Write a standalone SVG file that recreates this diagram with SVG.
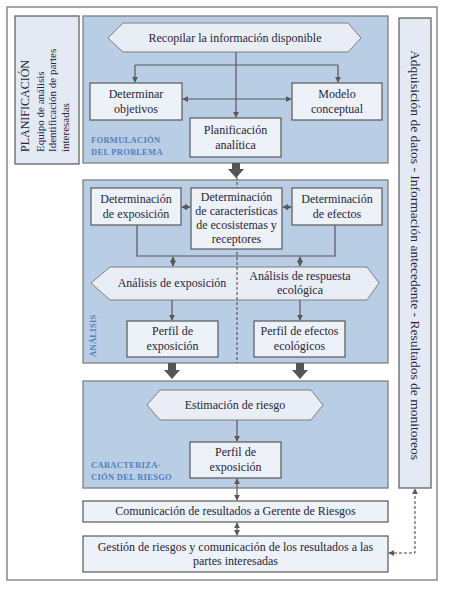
<svg xmlns="http://www.w3.org/2000/svg" width="450" height="591" viewBox="0 0 450 591" font-family="'Liberation Serif', 'DejaVu Serif', serif">
<style>
  text { font-family: 'Liberation Serif', 'DejaVu Serif', serif; fill: #26263a; }
  .t { font-size: 12px; text-anchor: middle; }
  .lbl { font-size: 8.5px; fill: #4f81bd; font-weight: bold; letter-spacing: 0.3px; }
  .frame { fill: #ffffff; stroke: #8a8a8a; stroke-width: 1.5; }
  .panel { fill: #b9cde5; stroke: #7f7f7f; stroke-width: 1.3; }
  .box { fill: #edf1f8; stroke: #595959; stroke-width: 1.2; }
  .hex { fill: #e9eef6; stroke: #7f7f7f; stroke-width: 1; }
  .side { fill: #e4eaf3; stroke: #595959; stroke-width: 1.2; }
  .ln { fill: none; stroke: #595959; stroke-width: 1.2; }
  .dash { fill: none; stroke: #404040; stroke-width: 1; stroke-dasharray: 3 2; }
  .big { fill: #555555; }
</style>
<defs>
  <marker id="ah" viewBox="0 0 8 8" refX="7" refY="4" markerWidth="6" markerHeight="6" markerUnits="userSpaceOnUse" orient="auto-start-reverse">
    <path d="M0,0 L8,4 L0,8 z" fill="#595959"/>
  </marker>
</defs>

<rect class="frame" x="7" y="7" width="430" height="573"/>

<g id="planificacion">
  <rect class="side" x="15" y="16" width="64" height="148"/>
  <text transform="translate(29,152) rotate(-90)" font-size="12">PLANIFICACIÓN</text>
  <text transform="translate(44,152) rotate(-90)" font-size="11">Equipo de análisis</text>
  <text transform="translate(56,152) rotate(-90)" font-size="11">Identificación de partes</text>
  <text transform="translate(69,152) rotate(-90)" font-size="11">interesadas</text>
</g>

<g id="panel-formulacion">
  <rect class="panel" x="83" y="16" width="305" height="147"/>
  <text class="lbl" x="91" y="143">FORMULACIÓN</text>
  <text class="lbl" x="91" y="155">DEL PROBLEMA</text>
</g>
<g id="panel-analisis">
  <rect class="panel" x="83" y="180" width="305" height="183"/>
  <text class="lbl" transform="translate(96,357) rotate(-90)">ANÁLISIS</text>
</g>
<g id="panel-caracterizacion">
  <rect class="panel" x="83" y="381" width="305" height="107"/>
  <text class="lbl" x="91" y="468">CARACTERIZA-</text>
  <text class="lbl" x="91" y="480">CIÓN DEL RIESGO</text>
</g>

<g id="recopilar">
  <polygon class="hex" points="123,23 348,23 361,38 348,52 123,52 108,38"/>
  <text class="t" x="235" y="42">Recopilar la información disponible</text>
</g>
<g id="analisis-hex">
  <polygon class="hex" points="110,267 367,267 379,283 367,300 110,300 91,283"/>
  <text class="t" x="172" y="287">Análisis de exposición</text>
  <text class="t" x="300" y="280">Análisis de respuesta</text>
  <text class="t" x="300" y="294">ecológica</text>
</g>
<g id="estimacion">
  <polygon class="hex" points="160,390 311,390 323,405 311,420 160,420 147,405"/>
  <text class="t" x="235" y="409">Estimación de riesgo</text>
</g>

<g id="connectors">
  <path class="ln" d="M236,52 V117" marker-end="url(#ah)"/>
  <path class="ln" d="M135,65 H338"/>
  <path class="ln" d="M135,65 V82" marker-end="url(#ah)"/>
  <path class="ln" d="M338,65 V82" marker-end="url(#ah)"/>
  <path class="ln" d="M183,99 H291" marker-start="url(#ah)" marker-end="url(#ah)"/>
  <polygon class="big" points="232,163 240,163 240,169 244,169 236,178 228,169 232,169"/>
  <path class="dash" d="M237,172 V363"/>
  <path class="ln" d="M182,207 H190" marker-start="url(#ah)" marker-end="url(#ah)"/>
  <path class="ln" d="M283,207 H291" marker-start="url(#ah)" marker-end="url(#ah)"/>
  <path class="ln" d="M137,225 V256 H335 V225"/>
  <path class="ln" d="M173,257 V266" marker-start="url(#ah)" marker-end="url(#ah)"/>
  <path class="ln" d="M300,257 V266" marker-start="url(#ah)" marker-end="url(#ah)"/>
  <path class="ln" d="M172,300 V320" marker-end="url(#ah)"/>
  <path class="ln" d="M300,300 V320" marker-end="url(#ah)"/>
  <polygon class="big" points="168,363 176,363 176,370 180,370 172,379 164,370 168,370"/>
  <polygon class="big" points="296,363 304,363 304,370 308,370 300,379 292,370 296,370"/>
  <path class="ln" d="M237,420 V441" marker-end="url(#ah)"/>
  <path class="ln" d="M237,479 V500" marker-start="url(#ah)" marker-end="url(#ah)"/>
  <path class="ln" d="M237,523 V535" marker-start="url(#ah)" marker-end="url(#ah)"/>
  <path class="dash" d="M389,553 H415 V489" marker-start="url(#ah)" marker-end="url(#ah)"/>
</g>

<g id="determinar-objetivos">
  <rect class="box" x="90" y="83" width="92" height="37"/>
  <text class="t" x="136" y="98">Determinar</text>
  <text class="t" x="136" y="113">objetivos</text>
</g>
<g id="modelo-conceptual">
  <rect class="box" x="292" y="83" width="90" height="37"/>
  <text class="t" x="337" y="98">Modelo</text>
  <text class="t" x="337" y="113">conceptual</text>
</g>
<g id="planificacion-analitica">
  <rect class="box" x="190" y="118" width="91" height="39"/>
  <text class="t" x="235.5" y="134">Planificación</text>
  <text class="t" x="235.5" y="149">analítica</text>
</g>

<g id="det-exposicion">
  <rect class="box" x="91" y="188" width="90" height="37"/>
  <text class="t" x="136" y="203">Determinación</text>
  <text class="t" x="136" y="218">de exposición</text>
</g>
<g id="det-caracteristicas">
  <rect class="box" x="191" y="188" width="91" height="61"/>
  <text class="t" x="236.5" y="201">Determinación</text>
  <text class="t" x="236.5" y="215">de características</text>
  <text class="t" x="236.5" y="229">de ecosistemas y</text>
  <text class="t" x="236.5" y="243">receptores</text>
</g>
<g id="det-efectos">
  <rect class="box" x="292" y="188" width="90" height="37"/>
  <text class="t" x="337" y="203">Determinación</text>
  <text class="t" x="337" y="218">de efectos</text>
</g>
<g id="perfil-exposicion">
  <rect class="box" x="127" y="321" width="91" height="36"/>
  <text class="t" x="172.5" y="335">Perfil de</text>
  <text class="t" x="172.5" y="350">exposición</text>
</g>
<g id="perfil-efectos">
  <rect class="box" x="254" y="321" width="91" height="36"/>
  <text class="t" x="299.5" y="335">Perfil de efectos</text>
  <text class="t" x="299.5" y="350">ecológicos</text>
</g>
<g id="perfil-exposicion-2">
  <rect class="box" x="190" y="442" width="91" height="36"/>
  <text class="t" x="235.5" y="456">Perfil de</text>
  <text class="t" x="235.5" y="471">exposición</text>
</g>
<g id="comunicacion">
  <rect class="box" x="83" y="501" width="305" height="21"/>
  <text class="t" x="235.5" y="515">Comunicación de resultados a Gerente de Riesgos</text>
</g>
<g id="gestion">
  <rect class="box" x="83" y="536" width="305" height="36"/>
  <text class="t" x="235.5" y="551">Gestión de riesgos y comunicación de los resultados a las</text>
  <text class="t" x="235.5" y="565">partes interesadas</text>
</g>
<g id="adquisicion">
  <rect class="side" x="399" y="18" width="32" height="470"/>
  <text class="t" transform="translate(411,255) rotate(90)" style="font-size:13.5px">Adquisición de datos - Información antecedente - Resultados de monitoreos</text>
</g>
</svg>
